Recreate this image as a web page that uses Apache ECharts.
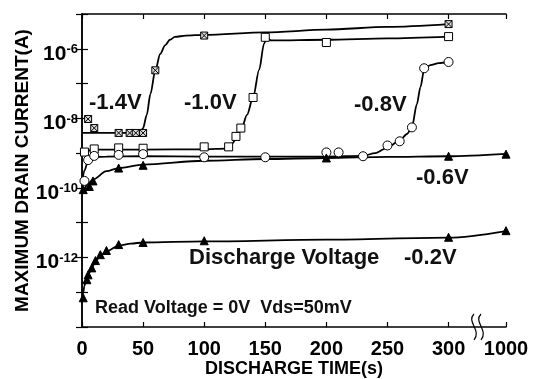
<!DOCTYPE html>
<html>
<head>
<meta charset="utf-8">
<script src="https://cdn.jsdelivr.net/npm/echarts@6/dist/echarts.min.js"></script>
<style>
  html, body { margin: 0; padding: 0; background: #fff; }
  #chart { width: 539px; height: 379px; }
</style>
</head>
<body>
<div id="chart"></div>
<script>
// discharge time (s) and log10 of max drain current (A)
// markers = measured points, curve = the drawn fit line
const t14 = [5, 10, 30, 39, 44, 50, 60, 100, 300];
const i14 = [-8.02, -8.28, -8.42, -8.42, -8.42, -8.42, -6.62, -5.62, -5.29];
const t14Curve = [0, 20, 45, 48, 50, 53, 56, 60, 64, 68, 72, 76, 85, 100, 150, 200, 250, 300];
const i14Curve = [-8.42, -8.42, -8.42, -8.38, -8.28, -7.9, -7.3, -6.62, -6.15, -5.9, -5.74, -5.66, -5.62, -5.6, -5.53, -5.45, -5.37, -5.29];

const t10 = [2, 10, 30, 50, 100, 120, 126, 130, 140, 150, 200, 300];
const i10 = [-8.97, -8.88, -8.85, -8.86, -8.82, -8.82, -8.52, -8.28, -7.4, -5.67, -5.82, -5.65];
const t10Curve = [0, 5, 10, 50, 100, 118, 123, 127, 131, 135, 140, 145, 149, 151, 155, 200, 250, 300];
const i10Curve = [-9.0, -8.93, -8.9, -8.9, -8.89, -8.87, -8.72, -8.52, -8.25, -7.9, -7.4, -6.6, -5.85, -5.7, -5.76, -5.74, -5.7, -5.65];

const t08 = [2, 5, 10, 30, 50, 100, 150, 200, 210, 230, 250, 260, 270, 280, 300];
const i08 = [-9.8, -9.2, -9.08, -9.05, -9.03, -9.12, -9.12, -8.98, -8.98, -9.09, -8.78, -8.66, -8.26, -6.56, -6.38];
const t08Curve = [0, 2, 5, 10, 20, 50, 100, 150, 200, 230, 240, 250, 260, 266, 270, 274, 277, 280, 285, 292, 300];
const i08Curve = [-9.85, -9.5, -9.22, -9.12, -9.1, -9.09, -9.1, -9.1, -9.1, -9.08, -9.0, -8.84, -8.64, -8.45, -8.26, -7.6, -7.1, -6.6, -6.47, -6.41, -6.38];

const t06 = [1, 6, 9, 30, 50, 200, 300, 1000];
const i06 = [-10.05, -9.96, -9.8, -9.43, -9.35, -9.14, -9.09, -9.03];
const t06Curve = [0, 2, 5, 9, 20, 30, 50, 100, 150, 200, 250, 300, 1000];
const i06Curve = [-10.15, -10.0, -9.88, -9.76, -9.52, -9.43, -9.33, -9.22, -9.17, -9.14, -9.11, -9.09, -9.02];

const t02 = [1, 4, 5, 8, 11, 15, 20, 30, 50, 100, 300, 1000];
const i02 = [-13.16, -12.64, -12.5, -12.3, -12.09, -11.92, -11.8, -11.63, -11.57, -11.52, -11.42, -11.23];
const t02Curve = [0, 1, 2, 3, 5, 8, 11, 15, 20, 30, 40, 50, 100, 200, 300, 1000];
const i02Curve = [-13.3, -13.0, -12.82, -12.7, -12.5, -12.3, -12.12, -11.95, -11.82, -11.66, -11.6, -11.57, -11.54, -11.49, -11.43, -11.24];

const xTicks = [0, 50, 100, 150, 200, 250, 300];
const yTickExps = [-6, -8, -10, -12];
const breakTime = 1000;   // shown after the axis break
const breakPos = 347;     // where 1000 s sits on the broken axis

const axisX = t => (t > 300 ? breakPos : t);
const pts = (ts, logs) => ts.map((t, k) => [axisX(t), Math.pow(10, logs[k])]);

const font = '"Liberation Sans", Arial, sans-serif';
const hatchSquare = 'path://M0,0L10,0L10,10L0,10Z M0,0L10,10 M10,0L0,10';

var chartDom = document.getElementById('chart');
var myChart = echarts.init(chartDom);

function curve(ts, logs) {
	return {
		type: 'line', data: pts(ts, logs), showSymbol: false, smooth: 0.3, smoothMonotone: 'x',
		lineStyle: {color: '#000', width: 1.8}, z: 2, animation: false
	};
}
function marks(ts, logs, symbol, size, fill) {
	return {
		type: 'scatter', data: pts(ts, logs), symbol: symbol, symbolSize: size,
		itemStyle: {color: fill, borderColor: '#000', borderWidth: 1, opacity: 1}, z: 3, animation: false
	};
}

const yLabel = v => {
	const e = Math.round(Math.log10(v));
	if (yTickExps.indexOf(e) < 0) return '';
	return '{b|10}{s|' + e + '}';
};

const txt = (x, y, s, size) => ({
	type: 'text', x: x, y: y,
	style: {text: s, font: 'bold ' + size + 'px ' + font, fill: '#111', textVerticalAlign: 'middle'}
});

var option = {
	animation: false,
	grid: {left: 82, right: 33, top: 14, bottom: 52, containLabel: false, outerBoundsMode: 'none'},
	xAxis: [{
		type: 'value', min: 0, max: breakPos, interval: 50, position: 'bottom',
		axisLine: {lineStyle: {color: '#000', width: 1.5}},
		axisTick: {inside: true, length: 5, lineStyle: {color: '#000', width: 1.2}},
		axisLabel: {
			color: '#000', fontFamily: font, fontWeight: 'bold', fontSize: 20, margin: 12,
			formatter: v => (v > 300 ? String(breakTime) : (xTicks.indexOf(v) >= 0 ? String(v) : ''))
		},
		splitLine: {show: false},
		name: 'DISCHARGE TIME(s)', nameLocation: 'middle', nameGap: 33, nameMoveOverlap: false,
		nameTextStyle: {color: '#000', fontFamily: font, fontWeight: 'bold', fontSize: 18}
	}, {
		type: 'value', min: 0, max: breakPos, interval: 50, position: 'top',
		axisLine: {lineStyle: {color: '#000', width: 1.5}},
		axisTick: {inside: true, length: 5, lineStyle: {color: '#000', width: 1.2}},
		axisLabel: {show: false}, splitLine: {show: false}
	}],
	yAxis: [{
		type: 'log', logBase: 10, min: 1e-14, max: 1e-5,
		axisLine: {show: true, lineStyle: {color: '#000', width: 1.5}},
		axisTick: {inside: true, length: 6, lineStyle: {color: '#000', width: 1.2}},
		axisLabel: {
			margin: 4, formatter: yLabel,
			rich: {
				b: {fontFamily: font, fontWeight: 'bold', fontSize: 21, color: '#000', lineHeight: 21, padding: [10, 0, 0, 0]},
				s: {fontFamily: font, fontWeight: 'bold', fontSize: 13, color: '#000', lineHeight: 14, verticalAlign: 'top', padding: [5, 0, 0, 0]}
			}
		},
		splitLine: {show: false},
		name: 'MAXIMUM DRAIN CURRENT(A)', nameLocation: 'middle', nameGap: 50, nameMoveOverlap: false,
		nameTextStyle: {color: '#000', fontFamily: font, fontWeight: 'bold', fontSize: 19}
	}, {
		type: 'log', logBase: 10, min: 1e-14, max: 1e-5, position: 'right',
		axisLine: {show: true, lineStyle: {color: '#000', width: 1.5}},
		axisTick: {inside: true, length: 6, lineStyle: {color: '#000', width: 1.2}},
		axisLabel: {show: false}, splitLine: {show: false}
	}],
	series: [
		curve(t14Curve, i14Curve),
		curve(t10Curve, i10Curve),
		curve(t08Curve, i08Curve),
		curve(t06Curve, i06Curve),
		curve(t02Curve, i02Curve),
		marks(t14, i14, hatchSquare, 7, '#ddd'),
		marks(t10, i10, 'rect', 8, '#fff'),
		marks(t08, i08, 'circle', 9, '#fff'),
		marks(t06, i06, 'triangle', 8, '#000'),
		marks(t02, i02, 'triangle', 8, '#000')
	],
	graphic: [
		txt(89, 103, '-1.4V', 22),
		txt(184, 103, '-1.0V', 22),
		txt(354, 105, '-0.8V', 22),
		txt(416, 178, '-0.6V', 22),
		txt(189, 258, 'Discharge Voltage', 22),
		txt(404, 258, '-0.2V', 22),
		txt(95, 308, 'Read Voltage = 0V  Vds=50mV', 18),
		{type: 'bezierCurve', shape: {x1: 474, y1: 314, cpx1: 466, cpy1: 322, cpx2: 482, cpy2: 330, x2: 474, y2: 340},
			style: {stroke: '#000', lineWidth: 1.2, fill: null}},
		{type: 'bezierCurve', shape: {x1: 481, y1: 314, cpx1: 473, cpy1: 322, cpx2: 489, cpy2: 330, x2: 481, y2: 340},
			style: {stroke: '#000', lineWidth: 1.2, fill: null}}
	]
};

option && myChart.setOption(option);
</script>
</body>
</html>
